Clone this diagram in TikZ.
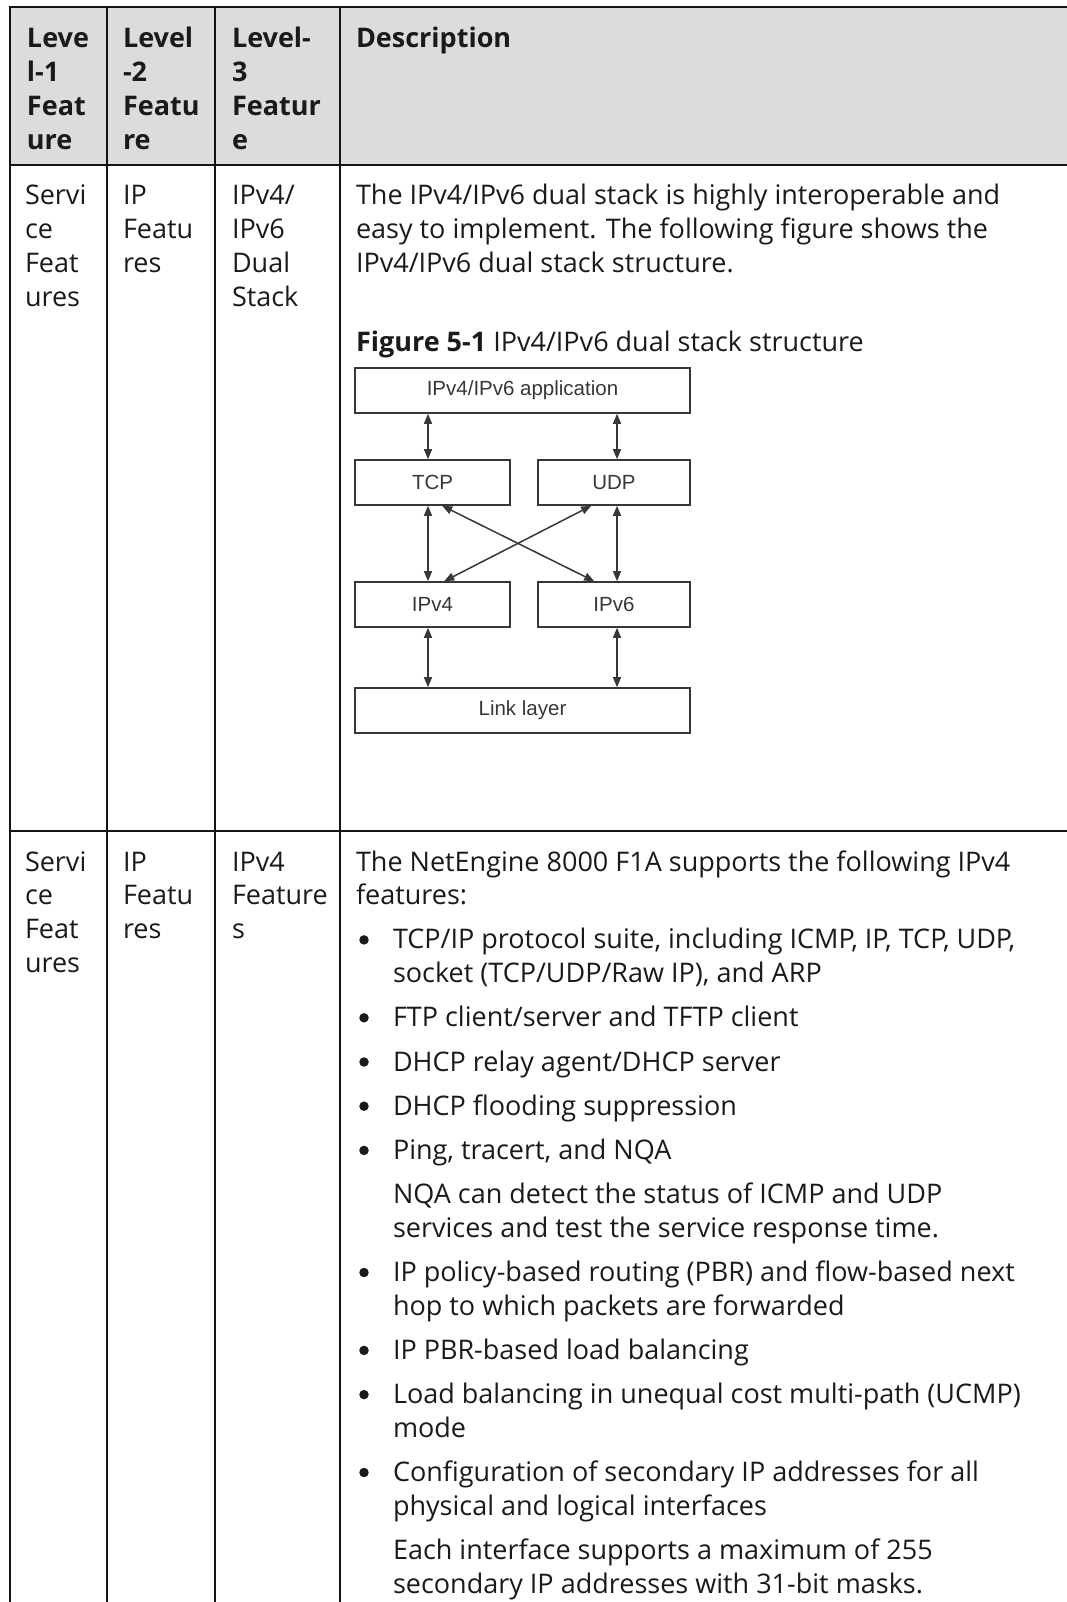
\documentclass[tikz,border=0pt]{standalone}
\usepackage{fontspec}
\setmainfont{Open Sans}
\newfontfamily\figfont{Liberation Sans}
\usetikzlibrary{arrows.meta}
\definecolor{headfill}{RGB}{220,220,220}
\definecolor{ink}{RGB}{26,26,26}
\definecolor{rule}{RGB}{20,20,20}
\definecolor{figink}{RGB}{55,55,55}

\begin{document}
\begin{tikzpicture}[x=1pt,y=-1pt,
  txt/.style={anchor=base west, inner sep=0pt, outer sep=0pt, text=ink,
    font=\fontsize{27}{33.7}\selectfont},
  head/.style={txt, font=\fontsize{27}{33.7}\selectfont\bfseries},
  grid/.style={draw=rule, line width=2pt},
  layer/.style={draw=figink, line width=1.6pt, minimum height=45pt,
    inner sep=0pt, text=figink, font=\figfont\fontsize{20.5}{24}\selectfont},
  biarrow/.style={draw=figink, line width=1.5pt,
    {Triangle[length=10pt,width=8pt]}-{Triangle[length=10pt,width=8pt]}},
  dot/.style={circle, fill=ink, inner sep=0pt, minimum size=9.5pt}
]
\useasboundingbox (0,0) rectangle (1067,1602);

% table frame
\fill[headfill] (9.5,7) rectangle (1075,165);
\draw[grid] (1075,7) -- (9.5,7) -- (9.5,1610);
\draw[grid] (9.5,165) -- (1075,165);
\draw[grid] (9.5,831) -- (1075,831);
\draw[grid] (107,7) -- (107,1610);
\draw[grid] (215,7) -- (215,1610);
\draw[grid] (340,7) -- (340,1610);

% header row
\node[head] (h1a) at (27,48) {Leve};
\node[head] (h1b) at (27,81.7) {l-1};
\node[head] (h1c) at (27,115.4) {Feat};
\node[head] (h1d) at (27,149.1) {ure};
\node[head] (h2a) at (123,48) {Level};
\node[head] (h2b) at (123,81.7) {-2};
\node[head] (h2c) at (123,115.4) {Featu};
\node[head] (h2d) at (123,149.1) {re};
\node[head] (h3a) at (232,48) {Level-};
\node[head] (h3b) at (232,81.7) {3};
\node[head] (h3c) at (232,115.4) {Featur};
\node[head] (h3d) at (232,149.1) {e};
\node[head] (h4a) at (356,48) {Description};

% first row
\node[txt] (a1a) at (25,205) {Servi};
\node[txt] (a1b) at (25,238.7) {ce};
\node[txt] (a1c) at (25,272.4) {Feat};
\node[txt] (a1d) at (25,306.1) {ures};
\node[txt] (a2a) at (123,205) {IP};
\node[txt] (a2b) at (123,238.7) {Featu};
\node[txt] (a2c) at (123,272.4) {res};
\node[txt] (a3a) at (232,205) {IPv4/};
\node[txt] (a3b) at (232,238.7) {IPv6};
\node[txt] (a3c) at (232,272.4) {Dual};
\node[txt] (a3d) at (232,306.1) {Stack};
\node[txt] (a4a) at (356,205) {The IPv4/IPv6 dual stack is highly interoperable and};
\node[txt] (a4b) at (356,238.7) {easy to implement. The following figure shows the};
\node[txt] (a4c) at (356,272.4) {IPv4/IPv6 dual stack structure.};
\node[txt] (cap) at (356,351) {\bfseries Figure 5-1\mdseries{} IPv4/IPv6 dual stack structure};

% dual stack structure
\node[layer, minimum width=335pt] (app) at (522.5,390.5) {IPv4/IPv6 application};
\node[layer, minimum width=155pt] (tcp) at (432.5,482.5) {TCP};
\node[layer, minimum width=152pt] (udp) at (614,482.5) {UDP};
\node[layer, minimum width=155pt] (ipv4) at (432.5,604.5) {IPv4};
\node[layer, minimum width=152pt] (ipv6) at (614,604.5) {IPv6};
\node[layer, minimum width=335pt] (link) at (522.5,710.5) {Link layer};
\coordinate (lx) at (428,0);
\coordinate (rx) at (617,0);
\draw[biarrow] (app.south -| lx) -- (tcp.north -| lx);
\draw[biarrow] (app.south -| rx) -- (udp.north -| rx);
\draw[biarrow] (tcp.south -| lx) -- (ipv4.north -| lx);
\draw[biarrow] (udp.south -| rx) -- (ipv6.north -| rx);
\draw[biarrow] ([xshift=88pt]tcp.south west) -- ([xshift=57pt]ipv6.north west);
\draw[biarrow] ([xshift=54pt]udp.south west) -- ([xshift=90pt]ipv4.north west);
\draw[biarrow] (ipv4.south -| lx) -- (link.north -| lx);
\draw[biarrow] (ipv6.south -| rx) -- (link.north -| rx);

% second row
\node[txt] (b1a) at (25,871) {Servi};
\node[txt] (b1b) at (25,904.7) {ce};
\node[txt] (b1c) at (25,938.4) {Feat};
\node[txt] (b1d) at (25,972.1) {ures};
\node[txt] (b2a) at (123,871) {IP};
\node[txt] (b2b) at (123,904.7) {Featu};
\node[txt] (b2c) at (123,938.4) {res};
\node[txt] (b3a) at (232,871) {IPv4};
\node[txt] (b3b) at (232,904.7) {Feature};
\node[txt] (b3c) at (232,938.4) {s};

\node[txt] (d01) at (356,871) {The NetEngine 8000 F1A supports the following IPv4};
\node[txt] (d02) at (356,904.7) {features:};
\node[dot] (u1) at (364,939.9) {};
\node[txt] (d03) at (393,948.9) {TCP/IP protocol suite, including ICMP, IP, TCP, UDP,};
\node[txt] (d04) at (393,982.6) {socket (TCP/UDP/Raw IP), and ARP};
\node[dot] (u2) at (364,1017.8) {};
\node[txt] (d05) at (393,1026.8) {FTP client/server and TFTP client};
\node[dot] (u3) at (364,1062) {};
\node[txt] (d06) at (393,1071) {DHCP relay agent/DHCP server};
\node[dot] (u4) at (364,1106.2) {};
\node[txt] (d07) at (393,1115.2) {DHCP flooding suppression};
\node[dot] (u5) at (364,1150.4) {};
\node[txt] (d08) at (393,1159.4) {Ping, tracert, and NQA};
\node[txt] (d09) at (393,1203.6) {NQA can detect the status of ICMP and UDP};
\node[txt] (d10) at (393,1237.3) {services and test the service response time.};
\node[dot] (u6) at (364,1272.5) {};
\node[txt] (d11) at (393,1281.5) {IP policy-based routing (PBR) and flow-based next};
\node[txt] (d12) at (393,1315.2) {hop to which packets are forwarded};
\node[dot] (u7) at (364,1350.4) {};
\node[txt] (d13) at (393,1359.4) {IP PBR-based load balancing};
\node[dot] (u8) at (364,1394.6) {};
\node[txt] (d14) at (393,1403.6) {Load balancing in unequal cost multi-path (UCMP)};
\node[txt] (d15) at (393,1437.3) {mode};
\node[dot] (u9) at (364,1472.5) {};
\node[txt] (d16) at (393,1481.5) {Configuration of secondary IP addresses for all};
\node[txt] (d17) at (393,1515.2) {physical and logical interfaces};
\node[txt] (d18) at (393,1559.4) {Each interface supports a maximum of 255};
\node[txt] (d19) at (393,1593.1) {secondary IP addresses with 31-bit masks.};
\end{tikzpicture}
\end{document}
